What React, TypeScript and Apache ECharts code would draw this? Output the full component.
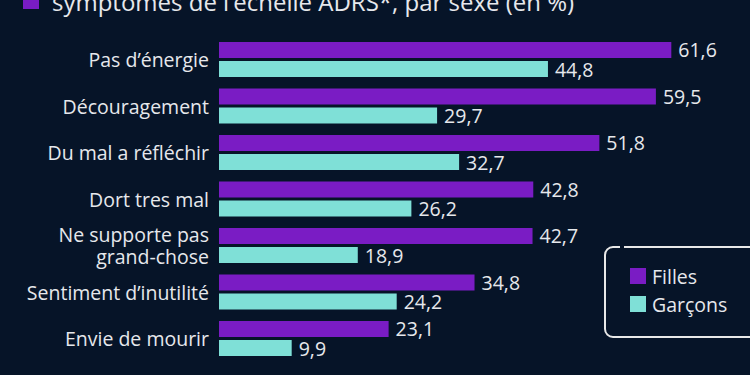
import React, { useEffect, useRef } from "react";
import * as echarts from "echarts";

const categories = [
  "Pas d’énergie",
  "Découragement",
  "Du mal a réfléchir",
  "Dort tres mal",
  "Ne supporte pas\ngrand-chose",
  "Sentiment d’inutilité",
  "Envie de mourir",
];
const filles = [61.6, 59.5, 51.8, 42.8, 42.7, 34.8, 23.1];
const garcons = [44.8, 29.7, 32.7, 26.2, 18.9, 24.2, 9.9];
const seriesNames = ["Filles", "Garçons"];
const titleText = "symptômes de l’échelle ADRS*, par sexe (en %)";

const BG = "#061428";
const PURPLE = "#7a1cc4";
const TEAL = "#7fe0d7";
const TXT = "#e6e8ec";
const FONT = "'Open Sans', 'Noto Sans', sans-serif";
const FS = 19.5;

export default function App() {
  const ref = useRef<HTMLDivElement>(null);
  useEffect(() => {
    if (!ref.current) return;
    const chart = echarts.init(ref.current, undefined, { renderer: "svg" });
    const fmt = (p: any) => String(p.value).replace(".", ",");
    chart.setOption({
      animation: false,
      backgroundColor: BG,
      textStyle: { fontFamily: FONT },
      grid: { left: 219, right: 17, top: 36.25, bottom: 13.25, containLabel: false },
      xAxis: { type: "value", min: 0, max: 70, show: false },
      yAxis: {
        type: "category",
        inverse: true,
        data: categories,
        axisLine: { show: false },
        axisTick: { show: false },
        splitLine: { show: false },
        axisLabel: {
          color: TXT,
          fontSize: FS,
          fontFamily: FONT,
          margin: 10,
          lineHeight: 22,
          align: "right",
        },
      },
      legend: {
        orient: "vertical",
        left: 625,
        top: 261,
        itemWidth: 16,
        itemHeight: 16,
        itemGap: 8,
        icon: "rect",
        textStyle: { color: TXT, fontSize: FS, fontFamily: FONT, padding: [0, 0, 0, 1] },
        data: seriesNames,
      },
      series: [
        {
          name: seriesNames[0],
          type: "bar",
          data: filles,
          barWidth: 16,
          barGap: "19%",
          itemStyle: { color: PURPLE },
          label: { show: true, position: "right", distance: 7, color: TXT, fontSize: FS, fontFamily: FONT, formatter: fmt },
        },
        {
          name: seriesNames[1],
          type: "bar",
          data: garcons,
          barWidth: 16,
          itemStyle: { color: TEAL },
          label: { show: true, position: "right", distance: 7, color: TXT, fontSize: FS, fontFamily: FONT, formatter: fmt },
        },
      ],
      graphic: [
        { type: "rect", shape: { x: 23, y: -7, width: 16, height: 16 }, style: { fill: PURPLE } },
        {
          type: "text",
          x: 52,
          y: 1.5,
          style: { text: titleText, fill: TXT, font: `24px ${FONT}`, verticalAlign: "middle", align: "left" },
        },
        {
          type: "rect",
          shape: { x: 605, y: 247, width: 170, height: 90, r: 8 },
          style: { fill: "none", stroke: "#e8e8e8", lineWidth: 2 },
        },
        { type: "rect", shape: { x: 620, y: 244, width: 4, height: 6 }, style: { fill: BG } },
      ],
    });
    return () => chart.dispose();
  }, []);
  return <div ref={ref} style={{ width: 750, height: 375, position: "fixed", left: 0, top: 0 }} />;
}
